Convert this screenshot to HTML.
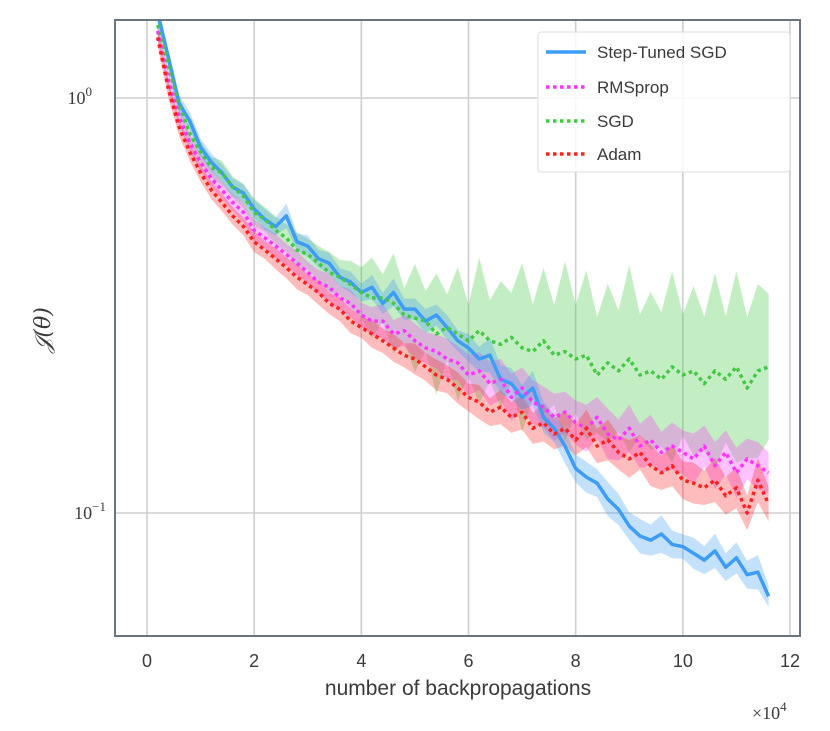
<!DOCTYPE html>
<html><head><meta charset="utf-8"><style>
body{margin:0;background:#fff;}
svg text{font-family:"Liberation Sans",sans-serif;fill:#3a3a3a;}
</style></head><body>
<svg id="chart" width="830" height="726" viewBox="0 0 830 726" xmlns="http://www.w3.org/2000/svg">
<defs><clipPath id="clip"><rect x="116" y="21" width="683" height="614"/></clipPath></defs>
<rect x="115" y="20" width="685" height="616" fill="#fff"/>
<g id="grid"></g>
<g id="bands" clip-path="url(#clip)"></g>
<g id="lines" clip-path="url(#clip)"></g>
<rect x="115" y="20" width="685" height="616" fill="none" stroke="#6b7580" stroke-width="2"/>
<g id="ticks"></g>
<text x="458" y="695" font-size="21" text-anchor="middle">number of backpropagations</text>
<text x="752" y="719" font-size="18" font-family="Liberation Serif" style="font-family:'Liberation Serif',serif">×10<tspan dy="-8" font-size="13">4</tspan></text>
<text transform="translate(50,330) rotate(-90)" font-size="22" text-anchor="middle" style="font-family:'DejaVu Serif',serif;font-style:italic">𝒥(θ)</text>
<g>
<rect x="538" y="32" width="252" height="140" fill="#fff" fill-opacity="0.85" stroke="#ddd" stroke-width="1" rx="3"/>
<line x1="546" y1="52" x2="586" y2="52" stroke="#3d9cf5" stroke-width="3.5"/>
<text x="597" y="58" font-size="17">Step-Tuned SGD</text>
<line x1="546" y1="87" x2="586" y2="87" stroke="#ff33ff" stroke-width="3.5" stroke-dasharray="3.5 3.5"/>
<text x="597" y="93" font-size="17">RMSprop</text>
<line x1="546" y1="121" x2="586" y2="121" stroke="#44c844" stroke-width="3.5" stroke-dasharray="3.5 3.5"/>
<text x="597" y="127" font-size="17">SGD</text>
<line x1="546" y1="154" x2="586" y2="154" stroke="#ff2020" stroke-width="3.5" stroke-dasharray="3.5 3.5"/>
<text x="597" y="160" font-size="17">Adam</text>
</g>
</svg>
<script>
const xTicks=[0,2,4,6,8,10,12];
const xs=[0.2,0.4,0.6,0.8,1.0,1.2,1.4,1.6,1.8,2.0,2.2,2.4,2.6,2.8,3.0,3.2,3.4,3.6,3.8,4.0,4.2,4.4,4.6,4.8,5.0,5.2,5.4,5.6,5.8,6.0,6.2,6.4,6.6,6.8,7.0,7.2,7.4,7.6,7.8,8.0,8.2,8.4,8.6,8.8,9.0,9.2,9.4,9.6,9.8,10.0,10.2,10.4,10.6,10.8,11.0,11.2,11.4,11.6];
const stepTuned=[1.60,1.25,0.97,0.88,0.76,0.70,0.66,0.61,0.59,0.54,0.51,0.49,0.52,0.45,0.44,0.41,0.40,0.37,0.36,0.34,0.35,0.32,0.34,0.31,0.31,0.29,0.30,0.28,0.26,0.25,0.235,0.24,0.21,0.205,0.19,0.20,0.17,0.16,0.145,0.128,0.122,0.118,0.108,0.102,0.093,0.088,0.086,0.089,0.084,0.083,0.080,0.077,0.081,0.074,0.078,0.071,0.072,0.063];
const rmsprop=[1.45,1.10,0.90,0.78,0.70,0.64,0.60,0.56,0.53,0.48,0.46,0.44,0.42,0.40,0.38,0.36,0.35,0.33,0.32,0.30,0.29,0.29,0.27,0.275,0.26,0.25,0.245,0.235,0.23,0.215,0.22,0.205,0.21,0.19,0.20,0.185,0.18,0.17,0.175,0.165,0.16,0.17,0.155,0.15,0.16,0.145,0.15,0.14,0.145,0.14,0.135,0.145,0.13,0.14,0.125,0.135,0.13,0.125];
const sgd=[1.50,1.20,0.96,0.82,0.74,0.68,0.66,0.61,0.58,0.53,0.51,0.48,0.46,0.43,0.42,0.40,0.38,0.37,0.355,0.34,0.33,0.33,0.32,0.30,0.295,0.29,0.27,0.28,0.27,0.26,0.275,0.26,0.255,0.265,0.25,0.245,0.26,0.24,0.245,0.235,0.24,0.215,0.23,0.22,0.235,0.215,0.22,0.21,0.225,0.215,0.22,0.205,0.22,0.21,0.225,0.20,0.22,0.225];
const adam=[1.40,1.05,0.85,0.74,0.66,0.60,0.56,0.52,0.49,0.45,0.43,0.41,0.39,0.37,0.355,0.34,0.32,0.31,0.29,0.28,0.27,0.26,0.25,0.24,0.235,0.225,0.215,0.21,0.20,0.19,0.185,0.175,0.18,0.17,0.175,0.16,0.165,0.155,0.16,0.15,0.16,0.145,0.15,0.14,0.135,0.14,0.13,0.125,0.13,0.12,0.118,0.115,0.12,0.11,0.115,0.10,0.12,0.105];
const stepTunedSpread=[1.05,1.05,1.05,1.05,1.05,1.05,1.05,1.05,1.05,1.05,1.06,1.05,1.07,1.05,1.06,1.05,1.06,1.05,1.06,1.05,1.07,1.06,1.08,1.06,1.06,1.07,1.06,1.07,1.06,1.08,1.07,1.10,1.08,1.09,1.07,1.10,1.09,1.08,1.10,1.08,1.09,1.08,1.10,1.09,1.08,1.10,1.09,1.11,1.08,1.07,1.09,1.08,1.10,1.08,1.09,1.08,1.10,1.06];
const rmspropSpread=[1.05,1.05,1.05,1.05,1.05,1.05,1.05,1.05,1.06,1.06,1.06,1.07,1.06,1.07,1.06,1.07,1.08,1.07,1.08,1.07,1.08,1.10,1.08,1.09,1.10,1.09,1.10,1.12,1.10,1.12,1.11,1.13,1.12,1.14,1.12,1.13,1.12,1.14,1.12,1.13,1.14,1.12,1.15,1.12,1.14,1.13,1.15,1.12,1.14,1.13,1.15,1.12,1.14,1.13,1.15,1.12,1.14,1.12];
const sgdSpread=[1.05,1.05,1.05,1.06,1.06,1.06,1.07,1.06,1.07,1.08,1.07,1.08,1.08,1.10,1.09,1.10,1.12,1.10,1.14,1.15,1.25,1.14,1.32,1.16,1.35,1.18,1.40,1.20,1.45,1.22,1.50,1.25,1.42,1.28,1.60,1.30,1.50,1.32,1.65,1.35,1.60,1.38,1.55,1.40,1.68,1.40,1.55,1.45,1.70,1.40,1.60,1.45,1.72,1.42,1.70,1.48,1.62,1.50];
const adamSpread=[1.05,1.05,1.05,1.05,1.05,1.05,1.05,1.05,1.05,1.06,1.05,1.06,1.06,1.07,1.06,1.07,1.06,1.07,1.07,1.06,1.08,1.07,1.08,1.07,1.09,1.08,1.09,1.08,1.09,1.08,1.10,1.08,1.10,1.09,1.10,1.09,1.11,1.09,1.10,1.09,1.11,1.10,1.12,1.10,1.11,1.10,1.12,1.10,1.12,1.11,1.12,1.10,1.13,1.11,1.12,1.10,1.13,1.10];

const NS='http://www.w3.org/2000/svg';
const X0=147, XU=(790-147)/12;
const Y0=98, DEC=415;
function xScale(v){return X0+v*XU;}
function yScale(v){return Y0-Math.log10(v)*DEC;}
function mk(tag,attrs,parent){const e=document.createElementNS(NS,tag);for(const k in attrs)e.setAttribute(k,attrs[k]);parent.appendChild(e);return e;}
const grid=document.getElementById('grid'),ticks=document.getElementById('ticks');
xTicks.forEach(t=>{
  const l=mk('line',{x1:xScale(t),x2:xScale(t),y1:20,y2:636,stroke:'#cfcfcf','stroke-width':1.6},grid);
  
  
  const tx=mk('text',{x:xScale(t),y:667,'font-size':18,'text-anchor':'middle'},ticks);
  tx.textContent=t;
  
  
});
[0,-1].forEach(p=>{
  const y=yScale(Math.pow(10,p));
  const l=mk('line',{x1:115,x2:800,y1:y,y2:y,stroke:'#cfcfcf','stroke-width':1.6},grid);
  
  
  const tx=mk('text',{x:p===0?92:106,y:y+6,'font-size':18,'text-anchor':'end',style:"font-family:'Liberation Serif',serif"},ticks);
  tx.innerHTML='10<tspan dy="-8" font-size="13">'+(p===0?'0':'−1')+'</tspan>';
  
  
});
const series=[
  {name:'sgd',vals:sgd,spread:sgdSpread,color:'#44c844',fillOp:0.32,dash:'3.5 3.5'},
  {name:'rmsprop',vals:rmsprop,spread:rmspropSpread,color:'#ff33ff',fillOp:0.3,dash:'3.5 3.5'},
  {name:'adam',vals:adam,spread:adamSpread,color:'#ff2020',fillOp:0.3,dash:'3.5 3.5'},
  {name:'step-tuned-sgd',vals:stepTuned,spread:stepTunedSpread,color:'#3d9cf5',fillOp:0.3,dash:null}
];
const bands=document.getElementById('bands'),lines=document.getElementById('lines');
series.forEach(s=>{
  let up=xs.map((x,i)=>xScale(x)+','+yScale(s.vals[i]*s.spread[i]));
  let lo=xs.map((x,i)=>xScale(x)+','+yScale(s.vals[i]/s.spread[i])).reverse();
  const b=mk('polygon',{points:up.concat(lo).join(' '),fill:s.color,'fill-opacity':s.fillOp,stroke:'none'},bands);
  
  
});
[series[3],series[0],series[1],series[2]].forEach(s=>{
  const pts=xs.map((x,i)=>xScale(x)+','+yScale(s.vals[i])).join(' ');
  const a={points:pts,fill:'none',stroke:s.color,'stroke-width':3.5,'stroke-linejoin':'round'};
  if(s.dash)a['stroke-dasharray']=s.dash;
  const l=mk('polyline',a,lines);
  
  
});
</script>
</body></html>
